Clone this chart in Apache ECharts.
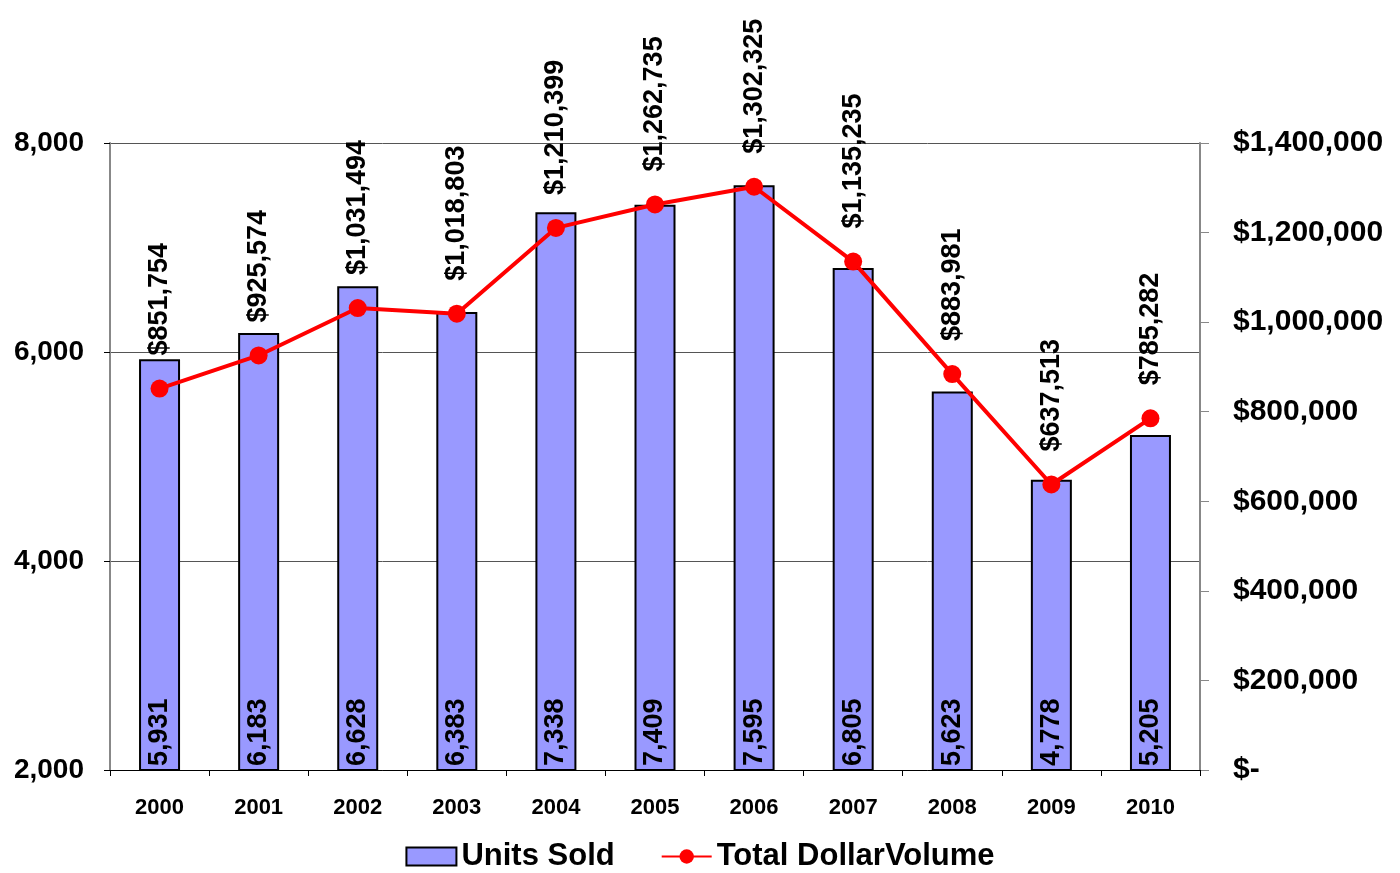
<!DOCTYPE html>
<html><head><meta charset="utf-8">
<script src="https://cdn.jsdelivr.net/npm/echarts@6/dist/echarts.min.js"></script>
<style>html,body{margin:0;padding:0;background:#fff}#c{width:1400px;height:873px}</style>
</head><body><div id="c"></div>
<script>
const years = ['2000','2001','2002','2003','2004','2005','2006','2007','2008','2009','2010'];
const unitsSold = [5931, 6183, 6628, 6383, 7338, 7409, 7595, 6805, 5623, 4778, 5205];
const dollarVolume = [851754, 925574, 1031494, 1018803, 1210399, 1262735, 1302325, 1135235, 883981, 637513, 785282];

const fmt = v => Number(v).toLocaleString('en-US');
const FONT = '"Liberation Sans", Arial, sans-serif';
const chart = echarts.init(document.getElementById('c'));
chart.setOption({
  animation: false,
  textStyle: { fontFamily: FONT },
  grid: { left: 110, right: 200, top: 143, bottom: 103, containLabel: false },
  legend: {
    top: 836, left: 'center', itemGap: 46, itemWidth: 50, itemHeight: 18,
    textStyle: { fontSize: 31, fontWeight: 'bold', color: '#000', fontFamily: FONT },
    data: [
      { name: 'Units Sold', icon: 'rect' },
      { name: 'Total DollarVolume' }
    ]
  },
  xAxis: {
    type: 'category', data: years,
    axisLine: { lineStyle: { color: '#000', width: 1 } },
    axisTick: { show: true, alignWithLabel: false, length: 6, lineStyle: { color: '#000' } },
    axisLabel: { fontSize: 22, fontWeight: 'bold', color: '#000', margin: 27, fontFamily: FONT }
  },
  yAxis: [
    {
      type: 'value', min: 2000, max: 8000, interval: 2000, position: 'left',
      axisLine: { show: true, lineStyle: { color: '#888', width: 2 } },
      axisTick: { show: true, length: 6, lineStyle: { color: '#000' } },
      axisLabel: { fontSize: 28, fontWeight: 'bold', color: '#000', margin: 26, formatter: v => fmt(v), fontFamily: FONT },
      splitLine: { show: true, lineStyle: { color: '#555', width: 1 } }
    },
    {
      type: 'value', min: 0, max: 1400000, interval: 200000, position: 'right',
      axisLine: { show: true, lineStyle: { color: '#888', width: 2 } },
      axisTick: { show: true, length: 9, lineStyle: { color: '#888' } },
      axisLabel: { fontSize: 30, fontWeight: 'bold', color: '#000', margin: 33,
        formatter: v => v === 0 ? '$-' : '$' + fmt(v), fontFamily: FONT },
      splitLine: { show: false }
    }
  ],
  series: [
    {
      name: 'Units Sold', type: 'bar', yAxisIndex: 0, data: unitsSold, barWidth: 41,
      itemStyle: { color: '#9999FF', borderColor: '#000', borderWidth: 2 },
      label: {
        show: true, position: 'insideBottom', rotate: 90, align: 'left', verticalAlign: 'middle',
        distance: 5, fontSize: 27, fontWeight: 'bold', color: '#000', formatter: p => fmt(p.value), fontFamily: FONT
      },
      z: 2
    },
    {
      name: 'Total DollarVolume', type: 'line', yAxisIndex: 1, data: dollarVolume,
      symbol: 'circle', symbolSize: 18,
      lineStyle: { color: '#FF0000', width: 4 },
      itemStyle: { color: '#FF0000' },
      label: {
        show: true, position: 'top', rotate: 90, align: 'left', verticalAlign: 'middle',
        distance: 24, fontSize: 27, fontWeight: 'bold', color: '#000', formatter: p => '$' + fmt(p.value), fontFamily: FONT
      },
      z: 5
    }
  ]
});
</script></body></html>
